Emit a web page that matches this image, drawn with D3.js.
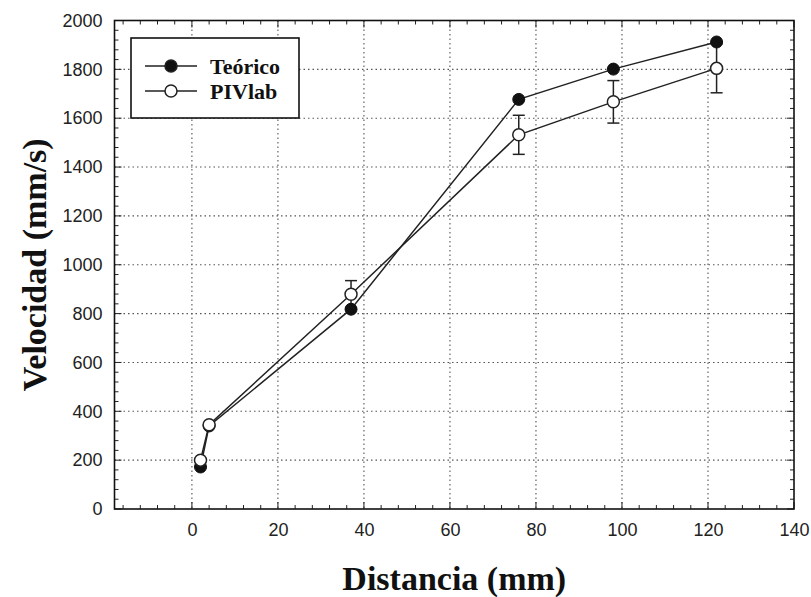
<!DOCTYPE html>
<html>
<head>
<meta charset="utf-8">
<script src="https://cdn.jsdelivr.net/npm/d3@7"></script>
<style>
  body { margin: 0; background: #fff; }
  svg { display: block; }
</style>
</head>
<body>
<div id="chart"></div>
<script>
// data
var teoricoX = [2, 4, 37, 76, 98, 122];
var teoricoY = [172, 340, 818, 1677, 1801, 1912];
var pivX = [2, 4, 37, 76, 98, 122];
var pivY = [200, 345, 879, 1532, 1667, 1804];
var pivErr = [0, 0, 56, 80, 87, 100];
var xTicks = [0, 20, 40, 60, 80, 100, 120, 140];
var yTicks = [0, 200, 400, 600, 800, 1000, 1200, 1400, 1600, 1800, 2000];
var legendLabels = ["Teórico", "PIVlab"];

var W = 811, H = 597;
var pLeft = 114.5, pRight = 794, pTop = 20.5, pBottom = 509;

var svg = d3.select("#chart").append("svg")
  .attr("width", W).attr("height", H);

var x = d3.scaleLinear().domain([-18, 140]).range([pLeft, pRight]);
var y = d3.scaleLinear().domain([0, 2000]).range([pBottom, pTop]);

// grid
var grid = svg.append("g").attr("stroke", "#555").attr("stroke-width", 1.1)
  .attr("stroke-dasharray", "1.5,3");
grid.selectAll(".gx").data(xTicks.filter(function(d) { return d > -18 && d < 140; }))
  .enter().append("line")
  .attr("x1", function(d) { return x(d); }).attr("x2", function(d) { return x(d); })
  .attr("y1", pTop).attr("y2", pBottom);
grid.selectAll(".gy").data(yTicks.filter(function(d) { return d > 0 && d < 2000; }))
  .enter().append("line")
  .attr("y1", function(d) { return y(d); }).attr("y2", function(d) { return y(d); })
  .attr("x1", pLeft).attr("x2", pRight);

// axes with inner ticks
var xMinor = d3.range(-16, 141, 4);
var yMinor = d3.range(0, 2001, 40);

function isMajorX(d) { return d % 20 === 0; }
function isMajorY(d) { return d % 200 === 0; }

var xb = svg.append("g").attr("transform", "translate(0," + pBottom + ")")
  .call(d3.axisBottom(x).tickValues(xTicks).tickSize(0).tickPadding(14)
    .tickFormat(d3.format("d")));
xb.select(".domain").remove();
xb.selectAll("text").attr("font-family", "Liberation Sans, Arial, sans-serif")
  .attr("font-size", 18).attr("fill", "#222");

var yl = svg.append("g").attr("transform", "translate(" + pLeft + ",0)")
  .call(d3.axisLeft(y).tickValues(yTicks).tickSize(0).tickPadding(12)
    .tickFormat(d3.format("d")));
yl.select(".domain").remove();
yl.selectAll("text").attr("font-family", "Liberation Sans, Arial, sans-serif")
  .attr("font-size", 18).attr("fill", "#222");

var ticks = svg.append("g").attr("stroke", "#222").attr("stroke-width", 1);
// bottom & top
xMinor.forEach(function(d) {
  var len = isMajorX(d) ? 7 : 4;
  ticks.append("line").attr("x1", x(d)).attr("x2", x(d)).attr("y1", pBottom).attr("y2", pBottom - len);
  ticks.append("line").attr("x1", x(d)).attr("x2", x(d)).attr("y1", pTop).attr("y2", pTop + len);
});
yMinor.forEach(function(d) {
  var len = isMajorY(d) ? 7 : 4;
  ticks.append("line").attr("y1", y(d)).attr("y2", y(d)).attr("x1", pLeft).attr("x2", pLeft + len);
  ticks.append("line").attr("y1", y(d)).attr("y2", y(d)).attr("x1", pRight).attr("x2", pRight - len);
});

svg.append("rect").attr("x", pLeft).attr("y", pTop)
  .attr("width", pRight - pLeft).attr("height", pBottom - pTop)
  .attr("fill", "none").attr("stroke", "#111").attr("stroke-width", 1.6);

// series
var teorico = teoricoX.map(function(d, i) { return { x: d, y: teoricoY[i] }; });
var piv = pivX.map(function(d, i) { return { x: d, y: pivY[i], e: pivErr[i] }; });

var line = d3.line().x(function(d) { return x(d.x); }).y(function(d) { return y(d.y); });

svg.append("path").datum(teorico).attr("d", line)
  .attr("fill", "none").attr("stroke", "#222").attr("stroke-width", 1.5);
svg.append("path").datum(piv).attr("d", line)
  .attr("fill", "none").attr("stroke", "#222").attr("stroke-width", 1.5);

// error bars
var eb = svg.append("g").attr("stroke", "#222").attr("stroke-width", 1.5);
piv.filter(function(d) { return d.e > 0; }).forEach(function(d) {
  var cx = x(d.x);
  eb.append("line").attr("x1", cx).attr("x2", cx).attr("y1", y(d.y - d.e)).attr("y2", y(d.y + d.e));
  eb.append("line").attr("x1", cx - 6).attr("x2", cx + 6).attr("y1", y(d.y - d.e)).attr("y2", y(d.y - d.e));
  eb.append("line").attr("x1", cx - 6).attr("x2", cx + 6).attr("y1", y(d.y + d.e)).attr("y2", y(d.y + d.e));
});

svg.append("g").selectAll("circle").data(teorico).enter().append("circle")
  .attr("cx", function(d) { return x(d.x); }).attr("cy", function(d) { return y(d.y); })
  .attr("r", 6).attr("fill", "#111").attr("stroke", "#111");
svg.append("g").selectAll("circle").data(piv).enter().append("circle")
  .attr("cx", function(d) { return x(d.x); }).attr("cy", function(d) { return y(d.y); })
  .attr("r", 6).attr("fill", "#fff").attr("stroke", "#222").attr("stroke-width", 1.5);

// legend
var lg = svg.append("g");
lg.append("rect").attr("x", 131).attr("y", 38).attr("width", 168).attr("height", 80)
  .attr("fill", "#fff").attr("stroke", "#111").attr("stroke-width", 1.6);
legendLabels.forEach(function(lab, i) {
  var ly = 66 + i * 25;
  lg.append("line").attr("x1", 145).attr("x2", 197).attr("y1", ly).attr("y2", ly)
    .attr("stroke", "#222").attr("stroke-width", 1.5);
  lg.append("circle").attr("cx", 171).attr("cy", ly).attr("r", 6)
    .attr("fill", i === 0 ? "#111" : "#fff").attr("stroke", "#222").attr("stroke-width", 1.5);
  lg.append("text").attr("x", 210).attr("y", ly + 8).text(lab)
    .attr("font-family", "Liberation Serif, Times New Roman, serif")
    .attr("font-weight", "bold").attr("font-size", 22).attr("fill", "#111");
});

// axis titles
svg.append("text").attr("x", (pLeft + pRight) / 2).attr("y", 590)
  .attr("text-anchor", "middle").text("Distancia (mm)")
  .attr("font-family", "Liberation Serif, Times New Roman, serif")
  .attr("font-weight", "bold").attr("font-size", 34).attr("fill", "#111");
svg.append("text")
  .attr("transform", "translate(46," + ((pTop + pBottom) / 2) + ") rotate(-90)")
  .attr("text-anchor", "middle").text("Velocidad (mm/s)")
  .attr("font-family", "Liberation Serif, Times New Roman, serif")
  .attr("font-weight", "bold").attr("font-size", 34).attr("fill", "#111");
</script>
</body>
</html>
